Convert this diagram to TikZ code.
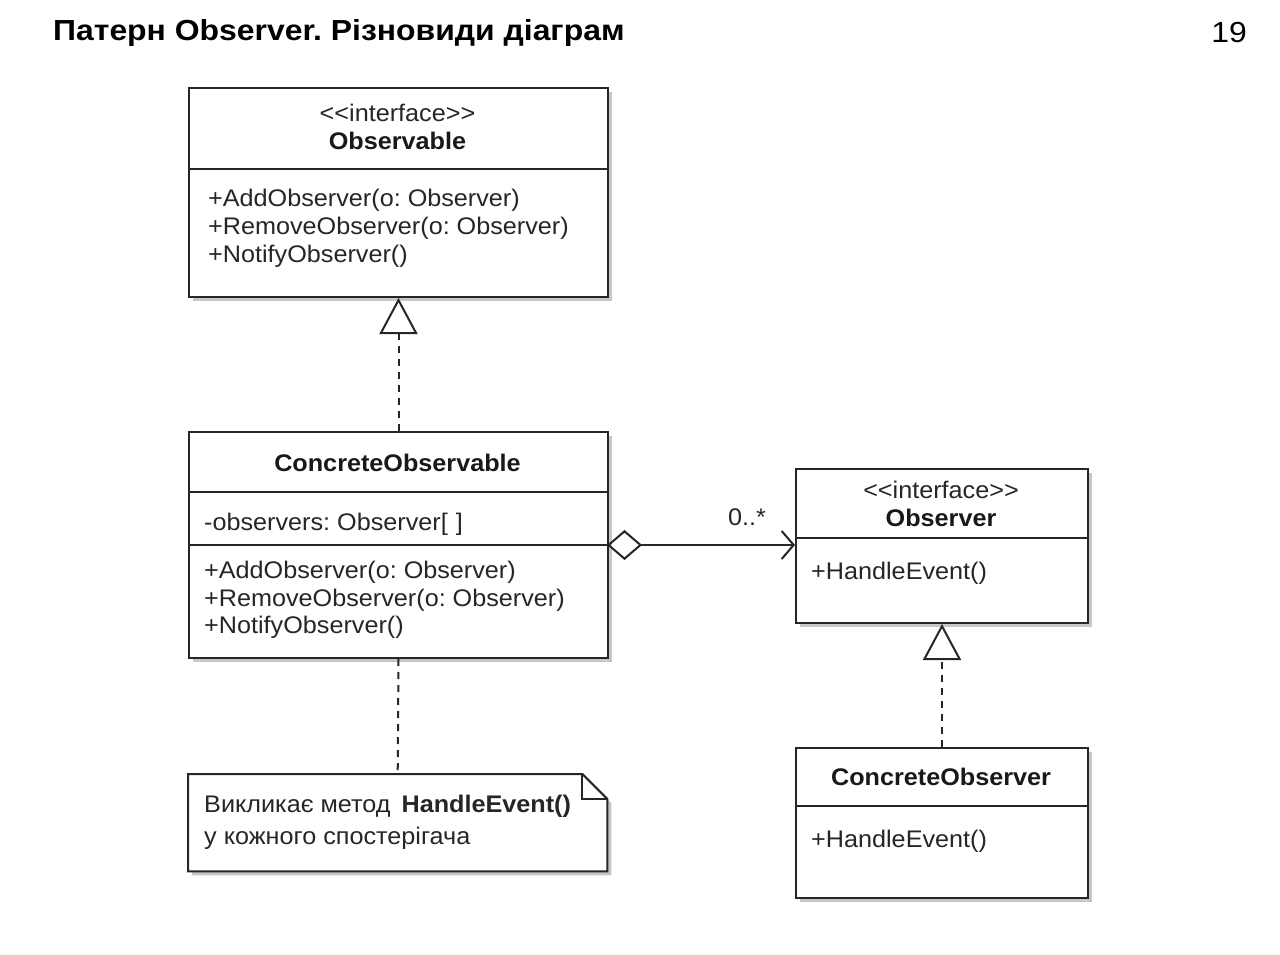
\documentclass[tikz,border=0pt]{standalone}
\usepackage{fontspec}
\setmainfont{Liberation Sans}[Ligatures=TeXOff, FakeStretch=1.05]
\newfontfamily\titlefont{Liberation Sans}[Ligatures=TeXOff, FakeStretch=1.1]
\usetikzlibrary{arrows.meta,shadows}
\begin{document}
\frenchspacing
\begin{tikzpicture}[x=1pt,y=-1pt,
  umlbox/.style={draw=black!85, line width=2pt, fill=white, anchor=north west, inner sep=0pt,
     drop shadow={shadow xshift=4pt, shadow yshift=-4pt, opacity=0.22, fill=black}},
  txt/.style={anchor=west, inner sep=0pt, text=black!85, font=\fontsize{24}{28}\selectfont},
  ctxt/.style={anchor=center, inner sep=0pt, text=black!85, font=\fontsize{24}{28}\selectfont},
  cname/.style={anchor=center, inner sep=0pt, text=black!90, font=\fontsize{24}{28}\selectfont\bfseries},
  sep/.style={draw=black!85, line width=2pt},
  realize/.style={draw=black!85, line width=2pt, dash pattern=on 7pt off 6pt,
     -{Triangle[open, length=36pt, width=38pt, line width=2pt]}},
  assoc/.style={draw=black!85, line width=2pt,
     {Diamond[open, length=35pt, width=30pt, line width=2pt]}-{Straight Barb[length=12pt, width=28pt, line width=2pt]}},
  notelink/.style={draw=black!85, line width=2pt, dash pattern=on 7pt off 6pt}
]
\useasboundingbox (0,0) rectangle (1280,955);

% title
\node[anchor=west, inner sep=0pt, font=\titlefont\fontsize{29}{33}\selectfont\bfseries] (title) at (53,33) {Патерн Observer. Різновиди діаграм};
\node[anchor=east, inner sep=0pt, font=\titlefont\fontsize{29}{33}\selectfont] (pageno) at (1247,33) {19};

% Observable
\node[umlbox, minimum width=419pt, minimum height=209pt] (obs) at (188,87) {};
\draw[sep] (188,169) -- (607,169);
\node[ctxt] (obsst) at (397.5,113) {<<interface>>};
\node[cname] (obsnm) at (397.5,141) {Observable};
\node[txt] (obsm1) at (208,200) {+AddObserver(o: Observer)};
\node[txt] (obsm2) at (208,228) {+RemoveObserver(o: Observer)};
\node[txt] (obsm3) at (208,256) {+NotifyObserver()};

% ConcreteObservable
\node[umlbox, minimum width=419pt, minimum height=226pt] (cobs) at (188,431) {};
\draw[sep] (188,492) -- (607,492);
\draw[sep] (188,545) -- (607,545);
\node[cname] (cobsnm) at (397.5,463) {ConcreteObservable};
\node[txt] (cobsa) at (204,524) {-observers: Observer[\,\,]};
\node[txt] (cobsm1) at (204,572) {+AddObserver(o: Observer)};
\node[txt] (cobsm2) at (204,600) {+RemoveObserver(o: Observer)};
\node[txt] (cobsm3) at (204,627) {+NotifyObserver()};

% Observer
\node[umlbox, minimum width=292pt, minimum height=154pt] (obv) at (795,468) {};
\draw[sep] (795,538) -- (1087,538);
\node[ctxt] (obvst) at (941,490) {<<interface>>};
\node[cname] (obvnm) at (941,518) {Observer};
\node[txt] (obvm1) at (811,573) {+HandleEvent()};

% ConcreteObserver
\node[umlbox, minimum width=292pt, minimum height=150pt] (cobv) at (795,747) {};
\draw[sep] (795,806) -- (1087,806);
\node[cname] (cobvnm) at (941,777) {ConcreteObserver};
\node[txt] (cobvm1) at (811,841) {+HandleEvent()};

% Note
\node[anchor=north west, inner sep=0pt, minimum width=419pt, minimum height=97pt] (note) at (188,774) {};
\draw[draw=black!85, line width=2pt, fill=white, line join=miter,
      drop shadow={shadow xshift=4pt, shadow yshift=-4pt, opacity=0.22, fill=black}]
  (note.north west) -- ([xshift=-25pt]note.north east) -- ([yshift=-25pt]note.north east)
  -- (note.south east) -- (note.south west) -- cycle;
\draw[draw=black!85, line width=2pt]
  ([xshift=-25pt]note.north east) -- ([xshift=-25pt,yshift=-25pt]note.north east) -- ([yshift=-25pt]note.north east);
\node[txt, font=\fontsize{24}{28}\selectfont] (notel1) at (204,806) {Викликає метод \,\textbf{HandleEvent()}};
\node[txt, font=\fontsize{24}{28}\selectfont] (notel2) at (204,838) {у кожного спостерігача};

% connectors
\draw[realize] (cobs.north) -- (obs.south);
\draw[realize] (cobv.north) -- (obv.south);
\coordinate (aggs) at (607,545);
\coordinate (agge) at (795,545);
\draw[assoc] (aggs) -- (agge);
\node[ctxt] (mult) at (747,517) {0..*};
\draw[notelink] (cobs.south) -- (note.north);
\end{tikzpicture}
\end{document}
